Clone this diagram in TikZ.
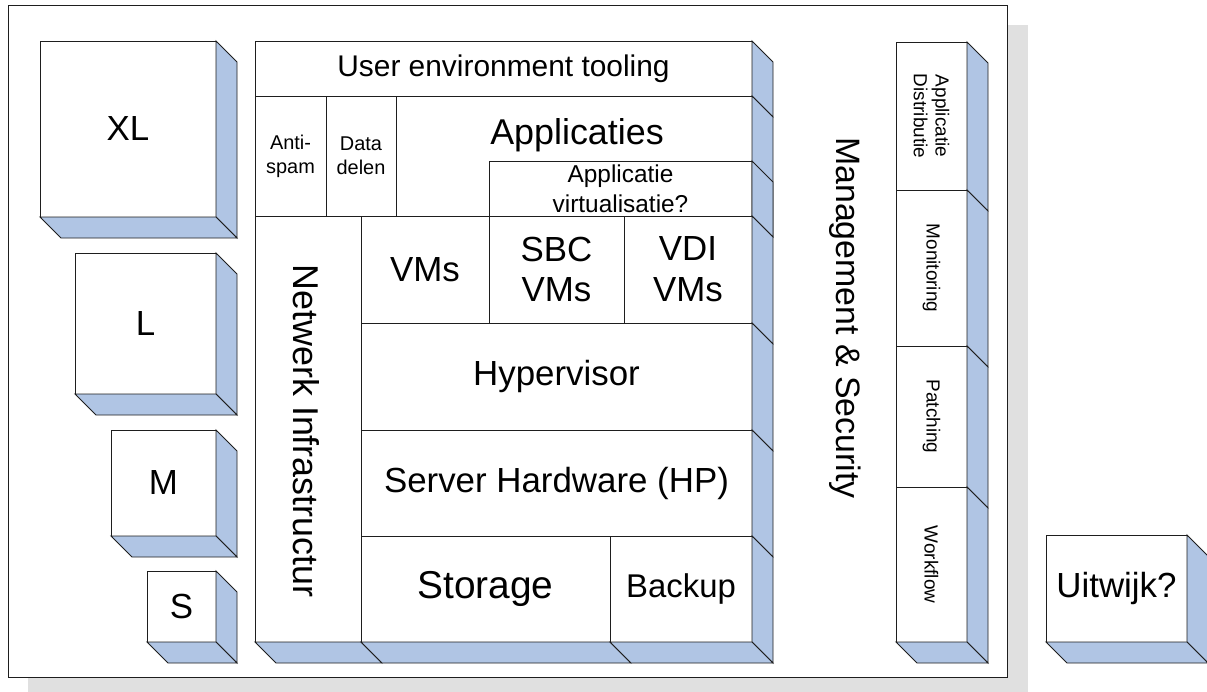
\documentclass[tikz,border=0pt]{standalone}
\usepackage{fontspec}
\setmainfont{Liberation Sans}
\usetikzlibrary{calc}
\definecolor{sidecol}{RGB}{176,197,228}
\definecolor{shadowcol}{RGB}{224,224,224}
\definecolor{linecol}{RGB}{30,30,30}
\newcommand\dd{21}
\newcommand\fs[2]{\fontsize{#1}{#2}\selectfont}
% front face of a 3D box: name, x1, y1, x2, y2, options, text
\newcommand\frontbox[7]{\node[front,#6,anchor=north west,minimum width={#4bp-#2bp},minimum height={#5bp-#3bp}] (#1) at (#2,#3) {#7};}
\newcommand\sidef[1]{\filldraw[depth] (#1.north east) -- ++(\dd,\dd) -- ([shift={(\dd,\dd)}]#1.south east) -- (#1.south east) -- cycle;}
\newcommand\bottomf[1]{\filldraw[depth] (#1.south west) -- (#1.south east) -- ++(\dd,\dd) -- ([shift={(\dd,\dd)}]#1.south west) -- cycle;}
\begin{document}
\begin{tikzpicture}[x=1bp,y=-1bp,
  front/.style={draw=linecol,fill=white,line width=0.9bp,inner sep=0pt,outer sep=0pt,align=center,text=black},
  depth/.style={draw=linecol,fill=sidecol,line width=0.9bp,line join=miter},
  big/.style={font=\fs{35}{41}},
  label/.style={inner sep=0pt,outer sep=0pt,align=center,text=black}]
\useasboundingbox (0,0) rectangle (1207,692);
\fill[white] (0,0) rectangle (1207,692);
% shadow and frame
\fill[shadowcol] (28,25) rectangle (1028,697);
\node[draw=linecol,fill=white,line width=0.9bp,inner sep=0pt,outer sep=0pt,anchor=north west,minimum width={999bp},minimum height={672bp}] (frame) at (8,5) {};

% size cubes
\frontbox{xl}{40}{41}{216}{217}{big}{XL}
\frontbox{l}{75}{253}{216}{394}{big}{L}
\frontbox{m}{111}{430}{216}{536}{big}{M}
\frontbox{s}{147}{571}{216}{642}{big}{S}
\foreach \n in {xl,l,m,s}{\sidef{\n}\bottomf{\n}}

% main stack
\frontbox{uet}{255}{41}{752}{96}{font=\fs{30}{34}}{User environment tooling}
\frontbox{antispam}{255}{96}{326}{216}{font=\fs{20}{24}}{Anti-\\spam}
\frontbox{datadelen}{326}{96}{396}{216}{font=\fs{20}{24}}{Data\\delen}
\frontbox{apps}{396}{96}{752}{216}{}{}
\node[label,font=\fs{36}{40}] (appstext) at (577,135) {Applicaties};
\frontbox{virt}{489}{161}{752}{216}{font=\fs{24.5}{30}}{Applicatie\\virtualisatie?}
\frontbox{netw}{255}{216}{361}{642}{}{}
\node[label,rotate=-90,font=\fs{36}{40}] (netwtext) at (306,431) {Netwerk Infrastructur};
\frontbox{vms}{361}{216}{489}{323}{big}{VMs}
\frontbox{sbc}{489}{216}{624}{323}{big}{SBC\\VMs}
\frontbox{vdi}{624}{216}{752}{323}{big}{VDI\\VMs}
\frontbox{hyper}{361}{323}{752}{430}{big}{Hypervisor}
\frontbox{server}{361}{430}{752}{536}{big}{Server Hardware (HP)}
\frontbox{storage}{361}{536}{610}{642}{font=\fs{39}{44}}{Storage}
\frontbox{backup}{610}{536}{752}{642}{font=\fs{33}{38}}{Backup}
\foreach \n in {uet,apps,virt,vdi,hyper,server,backup}{\sidef{\n}}
\foreach \n in {netw,storage,backup}{\bottomf{\n}}

% management & security
\node[label,rotate=-90,font=\fs{34}{38}] (mgmt) at (845,318) {Management \& Security};

% right column
\frontbox{ad}{896}{42}{967}{190}{}{}
\node[label,rotate=-90,font=\fs{19}{22}] (adtext) at (ad.center) {Applicatie\\Distributie};
\frontbox{mon}{896}{190}{967}{346}{}{}
\node[label,rotate=-90,font=\fs{19}{22}] (montext) at (mon.center) {Monitoring};
\frontbox{pat}{896}{346}{967}{487}{}{}
\node[label,rotate=-90,font=\fs{19}{22}] (pattext) at (pat.center) {Patching};
\frontbox{wf}{896}{487}{967}{642}{}{}
\node[label,rotate=-90,font=\fs{19}{22}] (wftext) at (wf.center) {Workflow};
\foreach \n in {ad,mon,pat,wf}{\sidef{\n}}
\bottomf{wf}

% uitwijk
\frontbox{uitwijk}{1046}{535}{1187}{642}{font=\fs{35}{40}}{Uitwijk?}
\sidef{uitwijk}\bottomf{uitwijk}
\end{tikzpicture}
\end{document}
